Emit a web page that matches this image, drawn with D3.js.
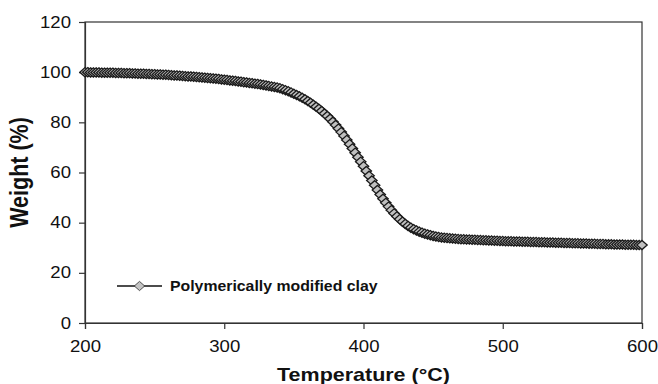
<!DOCTYPE html>
<html>
<head>
<meta charset="utf-8">
<script src="https://cdn.jsdelivr.net/npm/d3@7"></script>
<style>
  html, body { margin: 0; padding: 0; background: #fff; }
  svg { display: block; font-family: "Liberation Sans", Arial, sans-serif; }
</style>
</head>
<body>
<svg id="chart" width="658" height="384"></svg>
<script>
// TGA curve: temperature (°C) every 2 degrees and remaining weight (%)
const tempStart = 200;
const tempStep = 2;
const weight = [
  100.0,100.0,99.9,99.9,99.9,99.9,99.8,99.8,99.8,99.8,
  99.8,99.7,99.7,99.7,99.6,99.6,99.6,99.5,99.5,99.4,
  99.4,99.4,99.3,99.3,99.2,99.2,99.1,99.1,99.0,99.0,
  98.9,98.8,98.7,98.7,98.6,98.5,98.4,98.3,98.3,98.2,
  98.1,98.0,97.9,97.8,97.7,97.6,97.5,97.4,97.3,97.1,
  97.0,96.9,96.7,96.6,96.5,96.3,96.2,96.0,95.9,95.7,
  95.6,95.4,95.3,95.1,94.9,94.7,94.5,94.3,94.1,93.9,
  93.6,93.2,92.8,92.4,91.9,91.4,90.9,90.4,89.8,89.2,
  88.5,87.8,87.0,86.2,85.4,84.5,83.5,82.5,81.4,80.2,
  78.9,77.5,76.1,74.6,73.0,71.3,69.6,67.9,66.1,64.3,
  62.5,60.6,58.7,56.8,54.9,53.0,51.2,49.5,47.9,46.4,
  45.0,43.7,42.5,41.4,40.4,39.5,38.7,38.0,37.4,36.9,
  36.4,36.0,35.6,35.3,35.0,34.7,34.5,34.3,34.1,34.0,
  33.9,33.8,33.7,33.6,33.5,33.4,33.4,33.3,33.3,33.2,
  33.2,33.1,33.1,33.0,33.0,32.9,32.9,32.8,32.8,32.7,
  32.7,32.6,32.6,32.6,32.5,32.5,32.5,32.4,32.4,32.4,
  32.3,32.3,32.3,32.2,32.2,32.2,32.1,32.1,32.1,32.0,
  32.0,32.0,31.9,31.9,31.9,31.8,31.8,31.8,31.7,31.7,
  31.7,31.6,31.6,31.6,31.5,31.5,31.5,31.4,31.4,31.4,
  31.3,31.3,31.3,31.3,31.2,31.2,31.2,31.2,31.1,31.1,
  31.1
];
const xTicks = [200, 300, 400, 500, 600];
const yTicks = [0, 20, 40, 60, 80, 100, 120];
const seriesName = "Polymerically modified clay";
const xTitle = "Temperature (°C)";
const yTitle = "Weight (%)";

const points = weight.map((w, i) => ({ t: tempStart + i * tempStep, w }));

const W = 658, H = 384;
const margin = { top: 22, right: 16, bottom: 61, left: 85 };
const iw = W - margin.left - margin.right;
const ih = H - margin.top - margin.bottom;

// Text in this figure is set slightly wide
function stretch(sel, widen = 1.16) {
  sel.each(function () {
    const len = this.getComputedTextLength();
    d3.select(this).attr("textLength", len * widen).attr("lengthAdjust", "spacingAndGlyphs");
  });
}

const svg = d3.select("#chart");
const g = svg.append("g").attr("transform", `translate(${margin.left},${margin.top})`);

const x = d3.scaleLinear().domain([200, 600]).range([0, iw]);
const y = d3.scaleLinear().domain([0, 120]).range([ih, 0]);

const axisColor = "#333";

// Frame around the plot area
g.append("rect")
  .attr("x", 0).attr("y", 0).attr("width", iw).attr("height", ih)
  .attr("fill", "none").attr("stroke", axisColor).attr("stroke-width", 1.2);

// Axes
const xAxis = g.append("g").attr("transform", `translate(0,${ih})`)
  .call(d3.axisBottom(x).tickValues(xTicks).tickSize(6).tickPadding(5).tickFormat(d3.format("d")));
const yAxis = g.append("g")
  .call(d3.axisLeft(y).tickValues(yTicks).tickSize(6).tickPadding(8).tickFormat(d3.format("d")));

[xAxis, yAxis].forEach(a => {
  a.select(".domain").attr("stroke", axisColor).attr("stroke-width", 1.2);
  a.selectAll(".tick line").attr("stroke", axisColor).attr("stroke-width", 1.2);
  a.selectAll(".tick text")
    .attr("fill", "#111")
    .style("font-size", "16px")
    .style("font-family", "'Liberation Sans', Arial, sans-serif")
    .call(stretch);
});
xAxis.selectAll(".tick text").attr("dy", null).attr("y", 29);

// Series line
const line = d3.line().x(d => x(d.t)).y(d => y(d.w));
g.append("path").datum(points)
  .attr("d", line).attr("fill", "none").attr("stroke", "#111").attr("stroke-width", 1);

// Diamond markers
const rx = 5.2, ry = 4.6;
const diamond = `M0,${-ry}L${rx},0L0,${ry}L${-rx},0Z`;
g.append("g").selectAll("path.mk").data(points).join("path")
  .attr("class", "mk")
  .attr("transform", d => `translate(${x(d.t)},${y(d.w)})`)
  .attr("d", diamond)
  .attr("fill", "#c0c0c0")
  .attr("stroke", "#1a1a1a")
  .attr("stroke-width", 1.3);

// Legend
const lg = svg.append("g").attr("transform", "translate(117,286)");
lg.append("line").attr("x1", 0).attr("x2", 45).attr("y1", 0).attr("y2", 0)
  .attr("stroke", "#111").attr("stroke-width", 1.3);
lg.append("path").attr("transform", "translate(22.5,0)").attr("d", diamond)
  .attr("fill", "#c4c4c4").attr("stroke", "#2b2b2b").attr("stroke-width", 0.8);
lg.append("text").attr("x", 53).attr("y", 4.5)
  .style("font-size", "14px").style("font-weight", "bold").attr("fill", "#111")
  .text(seriesName)
  .call(stretch, 1.13);

// Axis titles
svg.append("text")
  .attr("x", margin.left + iw / 2).attr("y", 381)
  .attr("text-anchor", "middle")
  .style("font-size", "19px").style("font-weight", "bold").attr("fill", "#111")
  .text(xTitle)
  .call(stretch, 1.13);
svg.append("text")
  .attr("transform", `translate(28,${margin.top + ih / 2}) scale(1.16,1) rotate(-90)`)
  .attr("text-anchor", "middle")
  .style("font-size", "21.5px").style("font-weight", "bold").attr("fill", "#111")
  .text(yTitle);
</script>
</body>
</html>
